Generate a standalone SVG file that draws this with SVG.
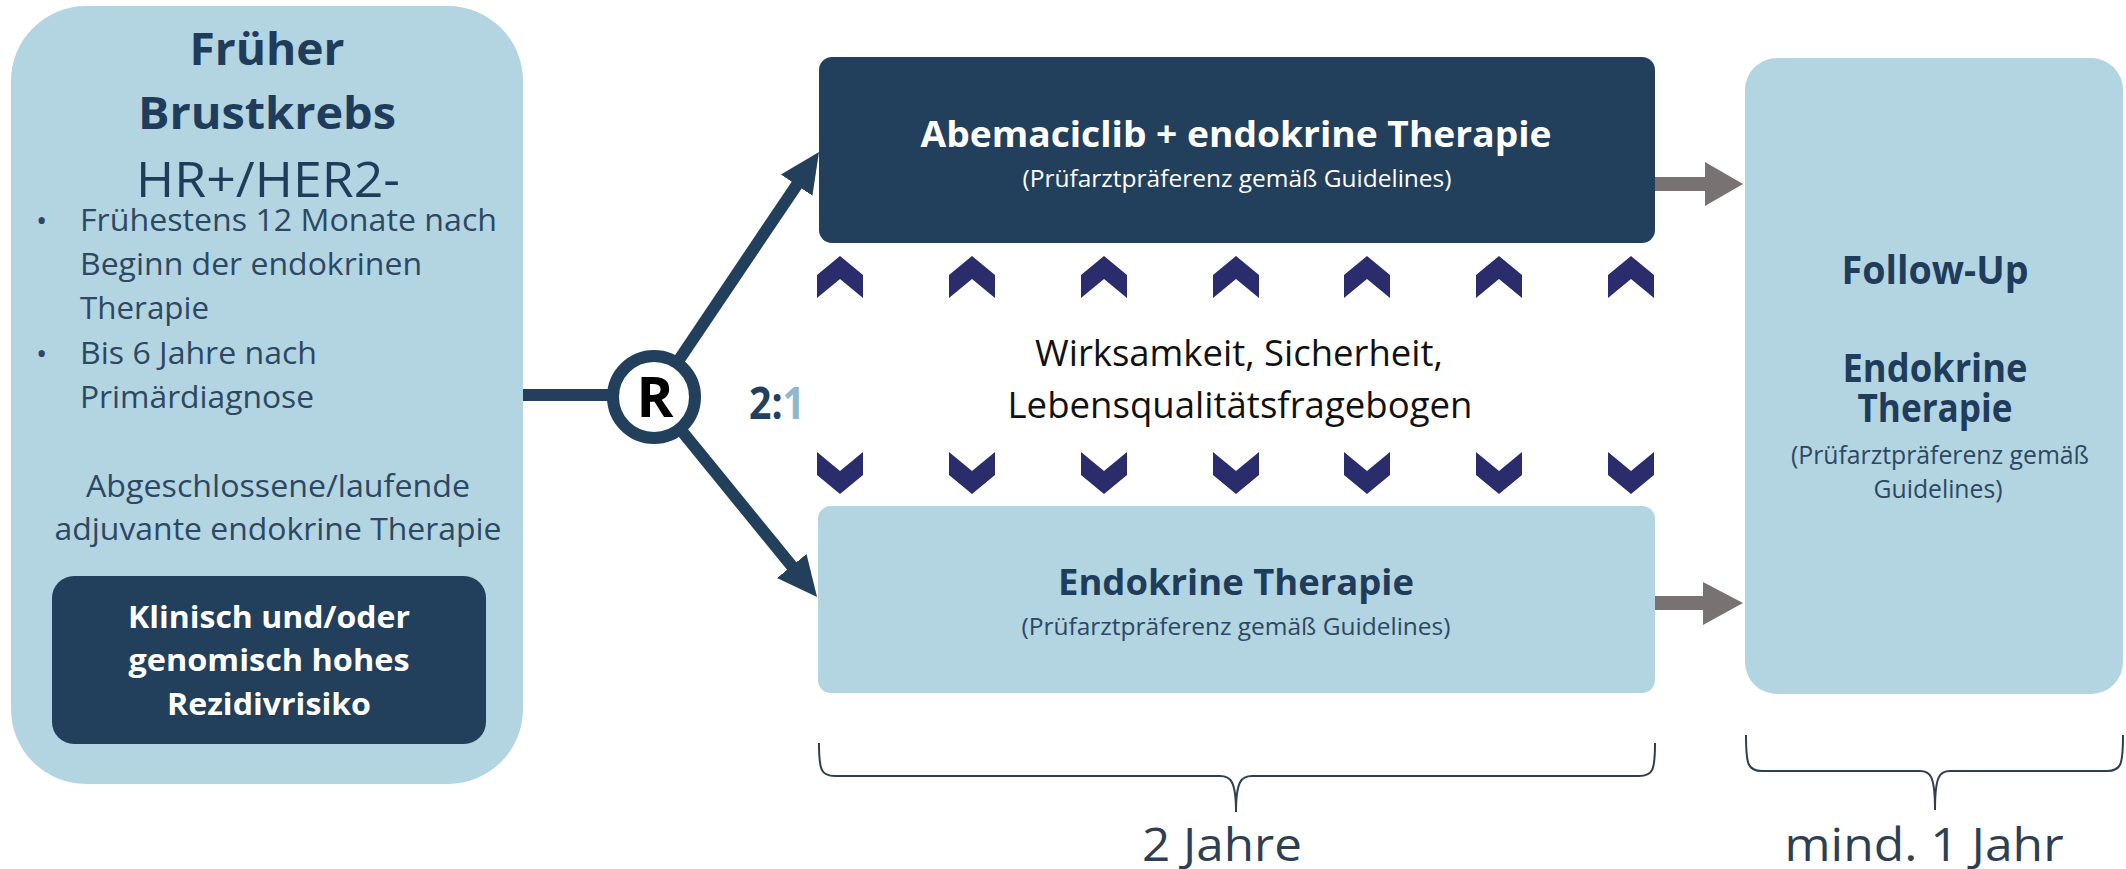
<svg xmlns="http://www.w3.org/2000/svg" width="2126" height="869" viewBox="0 0 2126 869">
<style>
  .light { fill: #b3d4e1; }
  .dark { fill: #223f5c; }
  .t { font-family: "Open Sans", "Noto Sans", "Liberation Sans", sans-serif; }
  .b { font-weight: bold; }
  .navy { fill: #1f3d5b; }
  .body { fill: #2d4863; }
  .white { fill: #ffffff; }
  .mid { text-anchor: middle; }
  .conn { stroke: #223f5c; stroke-width: 12; fill: none; }
  .chev { fill: #2a2c6b; }
  .gray { fill: #797273; }
  .brace { stroke: #2f3e50; stroke-width: 2; fill: none; }
</style>
<defs>
  <marker id="ah" markerUnits="userSpaceOnUse" markerWidth="40" markerHeight="40" refX="1" refY="19" orient="auto">
    <path d="M0,0 L40,19 L0,38 Z" fill="#223f5c"/>
  </marker>
  <path id="chev-up" d="M0,0 L23,19 L23,42 L0,23 L-23,42 L-23,19 Z"/>
  <path id="chev-down" d="M0,42 L23,23 L23,0 L0,19 L-23,0 L-23,23 Z"/>
</defs>
<rect width="2126" height="869" fill="#ffffff"/>

<g id="eligibility">
  <rect class="light" x="11" y="6" width="512" height="778" rx="75"/>
  <text class="t b navy mid" x="267" y="65" font-size="45" textLength="155" lengthAdjust="spacingAndGlyphs">Früher</text>
  <text class="t b navy mid" x="267" y="129" font-size="45" textLength="258" lengthAdjust="spacingAndGlyphs">Brustkrebs</text>
  <text class="t navy mid" x="268" y="197" font-size="49" textLength="264" lengthAdjust="spacingAndGlyphs">HR+/HER2-</text>
  <text class="t body" x="36" y="231" font-size="30">•</text>
  <text class="t body" x="80" y="231" font-size="31" textLength="417" lengthAdjust="spacingAndGlyphs">Frühestens 12 Monate nach</text>
  <text class="t body" x="80" y="275" font-size="31" textLength="342" lengthAdjust="spacingAndGlyphs">Beginn der endokrinen</text>
  <text class="t body" x="80" y="319" font-size="31" textLength="129" lengthAdjust="spacingAndGlyphs">Therapie</text>
  <text class="t body" x="36" y="364" font-size="30">•</text>
  <text class="t body" x="80" y="364" font-size="31" textLength="237" lengthAdjust="spacingAndGlyphs">Bis 6 Jahre nach</text>
  <text class="t body" x="80" y="408" font-size="31" textLength="234" lengthAdjust="spacingAndGlyphs">Primärdiagnose</text>
  <text class="t body mid" x="278" y="497" font-size="31" textLength="384" lengthAdjust="spacingAndGlyphs">Abgeschlossene/laufende</text>
  <text class="t body mid" x="278" y="540" font-size="31" textLength="447" lengthAdjust="spacingAndGlyphs">adjuvante endokrine Therapie</text>
</g>

<g id="risk">
  <rect class="dark" x="52" y="576" width="434" height="168" rx="22"/>
  <text class="t b white mid" x="269" y="628" font-size="31" textLength="282" lengthAdjust="spacingAndGlyphs">Klinisch und/oder</text>
  <text class="t b white mid" x="269" y="671" font-size="31" textLength="281" lengthAdjust="spacingAndGlyphs">genomisch hohes</text>
  <text class="t b white mid" x="269" y="715" font-size="31" textLength="204" lengthAdjust="spacingAndGlyphs">Rezidivrisiko</text>
</g>

<g id="connectors">
  <line class="conn" x1="523" y1="395" x2="614" y2="395"/>
  <line class="conn" x1="676.9" y1="363" x2="797.2" y2="184.3" marker-end="url(#ah)"/>
  <line class="conn" x1="679.9" y1="428.8" x2="792.4" y2="566.8" marker-end="url(#ah)"/>
  <polygon class="gray" points="1655,177 1705,177 1705,162 1743,184 1705,206 1705,191 1655,191"/>
  <polygon class="gray" points="1655,596 1703,596 1703,582 1743,603 1703,625 1703,610 1655,610"/>
</g>

<g id="randomization">
  <circle cx="654" cy="397" r="41" fill="#ffffff" stroke="#223f5c" stroke-width="12"/>
  <text class="t b mid" x="655" y="417" font-size="56" fill="#000000">R</text>
  <text class="t b" x="749" y="419" font-size="44" textLength="56" lengthAdjust="spacingAndGlyphs"><tspan fill="#223f5c">2:</tspan><tspan fill="#8fb8cc">1</tspan></text>
</g>

<g id="arm-abemaciclib">
  <rect class="dark" x="819" y="57" width="836" height="186" rx="13"/>
  <text class="t b white mid" x="1236" y="147" font-size="35" textLength="631" lengthAdjust="spacingAndGlyphs">Abemaciclib + endokrine Therapie</text>
  <text class="t white mid" x="1237" y="187" font-size="24" textLength="429" lengthAdjust="spacingAndGlyphs">(Prüfarztpräferenz gemäß Guidelines)</text>
</g>

<g id="arm-endocrine">
  <rect class="light" x="818" y="506" width="837" height="187" rx="13"/>
  <text class="t b navy mid" x="1236" y="595" font-size="35" textLength="356" lengthAdjust="spacingAndGlyphs">Endokrine Therapie</text>
  <text class="t body mid" x="1236" y="635" font-size="24" textLength="429" lengthAdjust="spacingAndGlyphs">(Prüfarztpräferenz gemäß Guidelines)</text>
</g>

<g id="assessments">
  <g class="chev">
    <use href="#chev-up" x="840" y="256"/>
    <use href="#chev-up" x="972" y="256"/>
    <use href="#chev-up" x="1104" y="256"/>
    <use href="#chev-up" x="1236" y="256"/>
    <use href="#chev-up" x="1367" y="256"/>
    <use href="#chev-up" x="1499" y="256"/>
    <use href="#chev-up" x="1631" y="256"/>
    <use href="#chev-down" x="840" y="452"/>
    <use href="#chev-down" x="972" y="452"/>
    <use href="#chev-down" x="1104" y="452"/>
    <use href="#chev-down" x="1236" y="452"/>
    <use href="#chev-down" x="1367" y="452"/>
    <use href="#chev-down" x="1499" y="452"/>
    <use href="#chev-down" x="1631" y="452"/>
  </g>
  <text class="t mid" x="1239" y="366" font-size="36" fill="#111111" textLength="408" lengthAdjust="spacingAndGlyphs">Wirksamkeit, Sicherheit,</text>
  <text class="t mid" x="1240" y="418" font-size="36" fill="#111111" textLength="465" lengthAdjust="spacingAndGlyphs">Lebensqualitätsfragebogen</text>
</g>

<g id="follow-up">
  <rect class="light" x="1745" y="58" width="378" height="636" rx="32"/>
  <text class="t b navy mid" x="1935" y="284" font-size="39" textLength="187" lengthAdjust="spacingAndGlyphs">Follow-Up</text>
  <text class="t b navy mid" x="1935" y="382" font-size="39" textLength="185" lengthAdjust="spacingAndGlyphs">Endokrine</text>
  <text class="t b navy mid" x="1935" y="422" font-size="39" textLength="155" lengthAdjust="spacingAndGlyphs">Therapie</text>
  <text class="t body mid" x="1940" y="464" font-size="25" textLength="298" lengthAdjust="spacingAndGlyphs">(Prüfarztpräferenz gemäß</text>
  <text class="t body mid" x="1938" y="498" font-size="25" textLength="129" lengthAdjust="spacingAndGlyphs">Guidelines)</text>
</g>

<g id="durations">
  <path class="brace" d="M819,743 C819,770 821,776 835,776 L1220,776 C1230,776 1236,780 1236,812 C1236,780 1242,776 1252,776 L1639,776 C1653,776 1655,770 1655,743"/>
  <path class="brace" d="M1746,735 C1746,765 1748,771 1762,771 L1920,771 C1930,771 1935,775 1935,810 C1935,775 1940,771 1950,771 L2107,771 C2121,771 2123,765 2123,735"/>
  <text class="t mid" x="1222" y="861" font-size="46" fill="#2e3f52" textLength="160" lengthAdjust="spacingAndGlyphs">2 Jahre</text>
  <text class="t mid" x="1924" y="861" font-size="46" fill="#2e3f52" textLength="279" lengthAdjust="spacingAndGlyphs">mind. 1 Jahr</text>
</g>
</svg>
